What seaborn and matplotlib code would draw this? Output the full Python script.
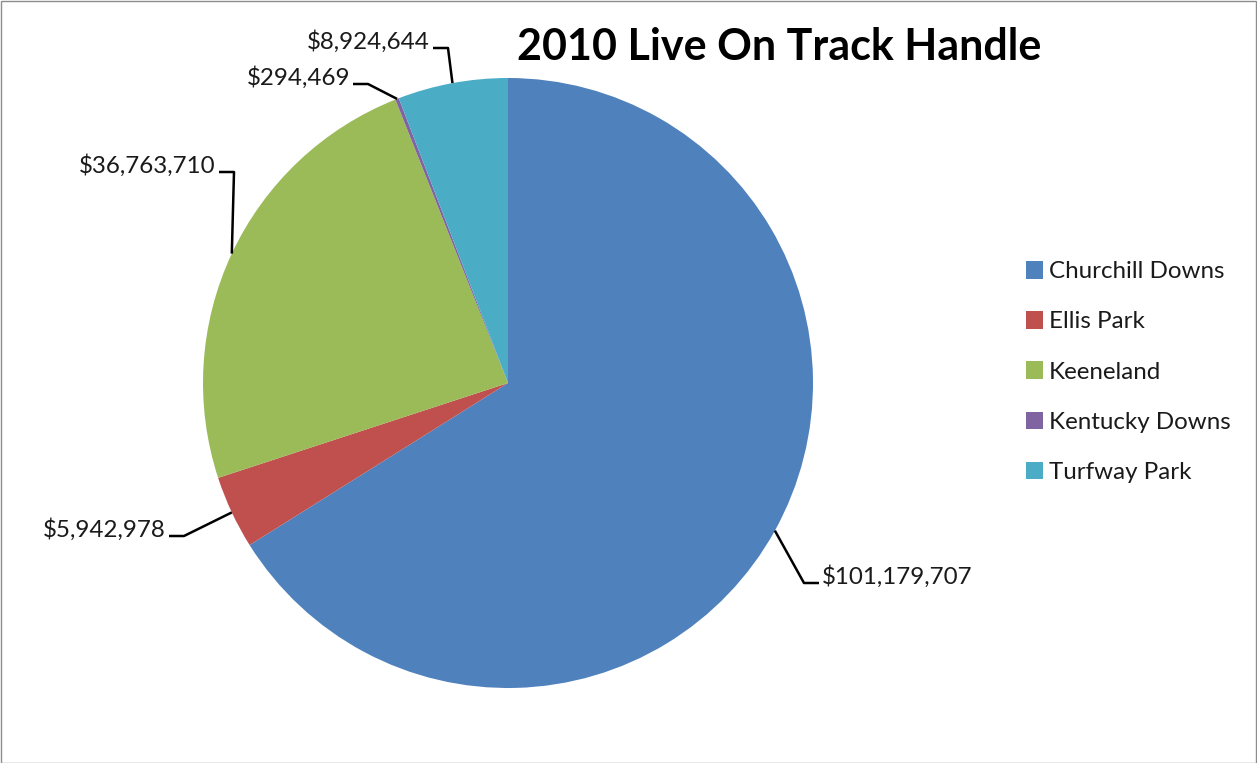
import numpy as np
import seaborn as sns
import matplotlib.pyplot as plt
from matplotlib.patches import Rectangle, Patch

# data
tracks = ["Churchill Downs", "Ellis Park", "Keeneland", "Kentucky Downs", "Turfway Park"]
handle = [101179707, 5942978, 36763710, 294469, 8924644]
colors = ["#4F81BD", "#C0504D", "#9BBB59", "#8064A2", "#4BACC6"]
title = "2010 Live On Track Handle"

# label placement in pixels (text anchor x, y, alignment)
label_pos = [(822, 577, "left"), (166, 530, "right"), (216, 166, "right"),
             (350, 78, "right"), (430, 42, "right")]

sns.set_theme(style="white")
plt.rcParams["font.family"] = ["Lato", "DejaVu Sans"]

W, H = 1257, 763
cx, cy, r = 508, 383, 305
fig = plt.figure(figsize=(W / 100, H / 100), dpi=100)
fig.patches.append(Rectangle((0.5 / W, 0.5 / H), 1 - 1.5 / W, 1 - 1.5 / H,
                             transform=fig.transFigure, fill=False,
                             edgecolor="#8c8c8c", linewidth=1))

ax = fig.add_axes([(cx - r) / W, (H - cy - r) / H, 2 * r / W, 2 * r / H])
wedges, _ = ax.pie(handle, colors=sns.color_palette(colors), startangle=90,
                   counterclock=False, radius=1,
                   wedgeprops=dict(linewidth=0))
ax.set_xlim(-1, 1)
ax.set_ylim(-1, 1)
ax.set_aspect("equal")
ax.axis("off")


def px(x, y):
    return (x - cx) / r, (cy - y) / r


for w, val, (tx, ty, ha) in zip(wedges, handle, label_pos):
    mid = np.deg2rad((w.theta1 + w.theta2) / 2)
    ex, ey = np.cos(mid), np.sin(mid)
    lx, ly = px(tx, ty)
    liney = ly - 6 / r
    gap = 3 / r if ha == "left" else -3 / r
    x0 = lx - gap
    x1 = x0 - (15 / r if ha == "left" else -15 / r)
    ax.plot([x0, x1, ex], [liney, liney, ey], color="black", lw=1.8,
            clip_on=False, solid_capstyle="butt")
    ax.text(lx, ly, f"${val:,}", ha=ha, va="center", fontsize=17.4,
            color="#1a1a1a")

fig.text(517 / W, (H - 47) / H, title, ha="left", va="center",
         fontsize=31, fontweight="bold", color="black")

handles = [Patch(facecolor=c, edgecolor="none") for c in colors]
fig.legend(handles, tracks, loc="center left",
           bbox_to_anchor=(1026 / W, (H - 372) / H), frameon=False,
           borderpad=0, borderaxespad=0,
           fontsize=17.4, handlelength=0.72, handleheight=0.72,
           handletextpad=0.22, labelspacing=1.2, labelcolor="#1a1a1a")

fig.savefig("out.png", dpi=100)
